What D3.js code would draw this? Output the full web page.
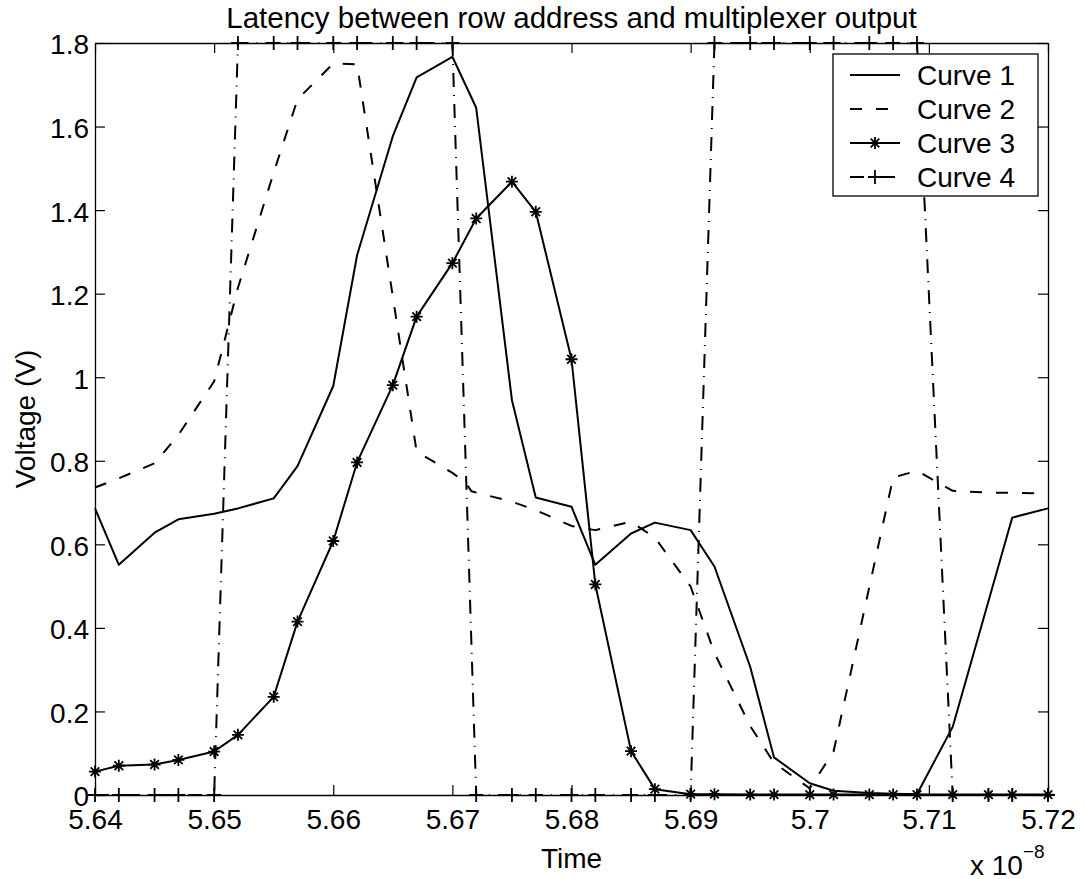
<!DOCTYPE html>
<meta charset='utf-8'>
<title>Latency</title>
<style>
body {
  margin: 0;
  background-color: #fff;
}
text {
  font-family: "Liberation Sans", Arial, sans-serif;
  fill: #000;
}
</style>
<svg width="1085" height="879"></svg>
<script src="https://d3js.org/d3.v7.min.js"></script>
<script>

// time samples, in units of 1e-8 s
var time = [5.640, 5.642, 5.645, 5.647, 5.650, 5.652, 5.655, 5.657, 5.660, 5.662,
            5.665, 5.667, 5.670, 5.672, 5.675, 5.677, 5.680, 5.682, 5.685, 5.687,
            5.690, 5.692, 5.695, 5.697, 5.700, 5.702, 5.705, 5.707, 5.709, 5.712,
            5.715, 5.717, 5.720];

var curve1 = [0.686, 0.551, 0.628, 0.660, 0.673, 0.686, 0.710, 0.787, 0.979, 1.292,
              1.577, 1.718, 1.767, 1.645, 0.945, 0.712, 0.690, 0.551, 0.626, 0.652,
              0.634, 0.547, 0.307, 0.090, 0.028, 0.010, 0.005, 0.003, 0.002, 0.163,
              0.464, 0.664, 0.686];

// curve 2 has a couple of extra samples around 5.671
var time2 = [5.640, 5.642, 5.645, 5.647, 5.650, 5.652, 5.655, 5.657, 5.660, 5.662,
             5.665, 5.667, 5.670, 5.6711, 5.6716, 5.675, 5.677, 5.680, 5.682, 5.685,
             5.687, 5.690, 5.692, 5.695, 5.697, 5.700, 5.702, 5.705, 5.707, 5.709,
             5.712, 5.715, 5.717, 5.720];

var curve2 = [0.736, 0.758, 0.794, 0.862, 0.990, 1.214, 1.490, 1.665, 1.751, 1.749,
              1.193, 0.822, 0.771, 0.748, 0.727, 0.702, 0.682, 0.644, 0.634, 0.654,
              0.616, 0.499, 0.340, 0.165, 0.077, 0.016, 0.104, 0.498, 0.760, 0.776,
              0.728, 0.724, 0.723, 0.722];

var curve3 = [0.056, 0.070, 0.073, 0.084, 0.104, 0.144, 0.235, 0.415, 0.608, 0.796,
              0.981, 1.145, 1.273, 1.380, 1.468, 1.396, 1.043, 0.504, 0.105, 0.014,
              0.002, 0.002, 0.001, 0.001, 0.001, 0.001, 0.001, 0.001, 0.001, 0.001,
              0.001, 0.001, 0.001];

var curve4 = [0, 0, 0, 0, 0, 1.8, 1.8, 1.8, 1.8, 1.8,
              1.8, 1.8, 1.8, 0, 0, 0, 0, 0, 0, 0,
              0, 1.8, 1.8, 1.8, 1.8, 1.8, 1.8, 1.8, 1.8, 0,
              0, 0, 0];

var xTicks = [5.64, 5.65, 5.66, 5.67, 5.68, 5.69, 5.70, 5.71, 5.72];
var yTicks = [0, 0.2, 0.4, 0.6, 0.8, 1.0, 1.2, 1.4, 1.6, 1.8];
var legendLabels = ["Curve 1", "Curve 2", "Curve 3", "Curve 4"];

var svg = d3.select("svg");

// plot box (note: "top" is a reserved window global, so use other names)
var boxL = 95, boxR = 1048, boxT = 43, boxB = 795;

var x = d3.scaleLinear().domain([5.64, 5.72]).range([boxL, boxR]);
var y = d3.scaleLinear().domain([0, 1.8]).range([boxB, boxT]);

var starPath = "M-6,0H6M0,-6V6M-4.3,-4.3L4.3,4.3M-4.3,4.3L4.3,-4.3";
var plusPath = "M-7,0H7M0,-7V7";

var series = [
  { key: "Curve 1", t: time,  v: curve1, dash: null,         marker: null },
  { key: "Curve 2", t: time2, v: curve2, dash: "12,14",      marker: null },
  { key: "Curve 3", t: time,  v: curve3, dash: null,         marker: starPath },
  { key: "Curve 4", t: time,  v: curve4, dash: "14,8,1,8",   marker: plusPath }
];

var line = d3.line()
    .x(function(d) { return x(d[0]); })
    .y(function(d) { return y(d[1]); });

// axes: ticks point inward on all four sides
var fmtX = function(d) { return String(+d.toFixed(2)); };
var fmtY = function(d) { return String(+d.toFixed(1)); };

var gx = svg.append("g")
    .attr("transform", "translate(0," + boxB + ")")
    .call(d3.axisBottom(x).tickValues(xTicks).tickSize(-10).tickSizeOuter(0)
      .tickPadding(14).tickFormat(fmtX));

var gy = svg.append("g")
    .attr("transform", "translate(" + boxL + ",0)")
    .call(d3.axisLeft(y).tickValues(yTicks).tickSize(-10).tickSizeOuter(0)
      .tickPadding(6).tickFormat(fmtY));

svg.append("g")
    .attr("transform", "translate(0," + boxT + ")")
    .call(d3.axisTop(x).tickValues(xTicks).tickSize(-10).tickSizeOuter(0).tickFormat(""));

svg.append("g")
    .attr("transform", "translate(" + boxR + ",0)")
    .call(d3.axisRight(y).tickValues(yTicks).tickSize(-10).tickSizeOuter(0).tickFormat(""));

svg.selectAll(".domain").attr("stroke", "#000").attr("stroke-width", 1.3);
svg.selectAll(".tick line").attr("stroke", "#000").attr("stroke-width", 1.2);
svg.selectAll(".tick text")
    .attr("font-size", 28)
    .attr("font-family", "Liberation Sans, Arial, sans-serif")
    .attr("fill", "#000");
gy.selectAll(".tick text").attr("dy", "0.39em");
gx.selectAll(".tick text").attr("dy", "0.71em");

// curves
var gs = svg.selectAll("g.series")
    .data(series)
  .enter().append("g")
    .attr("class", "series");

gs.append("path")
    .attr("fill", "none")
    .attr("stroke", "#000")
    .attr("stroke-width", 2)
    .attr("stroke-linejoin", "round")
    .attr("stroke-dasharray", function(d) { return d.dash; })
    .attr("d", function(d) { return line(d3.zip(d.t, d.v)); });

gs.filter(function(d) { return d.marker; })
  .selectAll("path.marker")
    .data(function(d) {
      return d3.zip(d.t, d.v).map(function(p) { return { p: p, m: d.marker }; });
    })
  .enter().append("path")
    .attr("class", "marker")
    .attr("fill", "none")
    .attr("stroke", "#000")
    .attr("stroke-width", 1.8)
    .attr("transform", function(d) { return "translate(" + x(d.p[0]) + "," + y(d.p[1]) + ")"; })
    .attr("d", function(d) { return d.m; });

// titles
svg.append("text")
    .attr("x", (boxL + boxR) / 2)
    .attr("y", 28)
    .attr("text-anchor", "middle")
    .attr("font-size", 29.5)
    .text("Latency between row address and multiplexer output");

svg.append("text")
    .attr("x", (boxL + boxR) / 2)
    .attr("y", 868)
    .attr("text-anchor", "middle")
    .attr("font-size", 28)
    .text("Time");

svg.append("text")
    .attr("transform", "translate(35," + (boxT + boxB) / 2 + ") rotate(-90)")
    .attr("text-anchor", "middle")
    .attr("font-size", 28)
    .text("Voltage (V)");

var expo = svg.append("text")
    .attr("x", 970)
    .attr("y", 875)
    .attr("font-size", 28)
    .text("x 10");
expo.append("tspan")
    .attr("dy", -17)
    .attr("font-size", 19)
    .text("\u22128");

// legend
var lg = svg.append("g");
lg.append("rect")
    .attr("x", 833).attr("y", 54)
    .attr("width", 205).attr("height", 142)
    .attr("fill", "#fff")
    .attr("stroke", "#000")
    .attr("stroke-width", 1.3);

var rows = lg.selectAll("g.row")
    .data(series)
  .enter().append("g")
    .attr("class", "row")
    .attr("transform", function(d, i) { return "translate(0," + (75 + i * 34) + ")"; });

rows.append("path")
    .attr("fill", "none")
    .attr("stroke", "#000")
    .attr("stroke-width", 2)
    .attr("stroke-dasharray", function(d) { return d.dash; })
    .attr("d", "M850,0H900");

rows.filter(function(d) { return d.marker; })
  .append("path")
    .attr("fill", "none")
    .attr("stroke", "#000")
    .attr("stroke-width", 1.8)
    .attr("transform", "translate(875,0)")
    .attr("d", function(d) { return d.marker; });

rows.append("text")
    .attr("x", 917)
    .attr("y", 10)
    .attr("font-size", 28)
    .text(function(d, i) { return legendLabels[i]; });

</script>
